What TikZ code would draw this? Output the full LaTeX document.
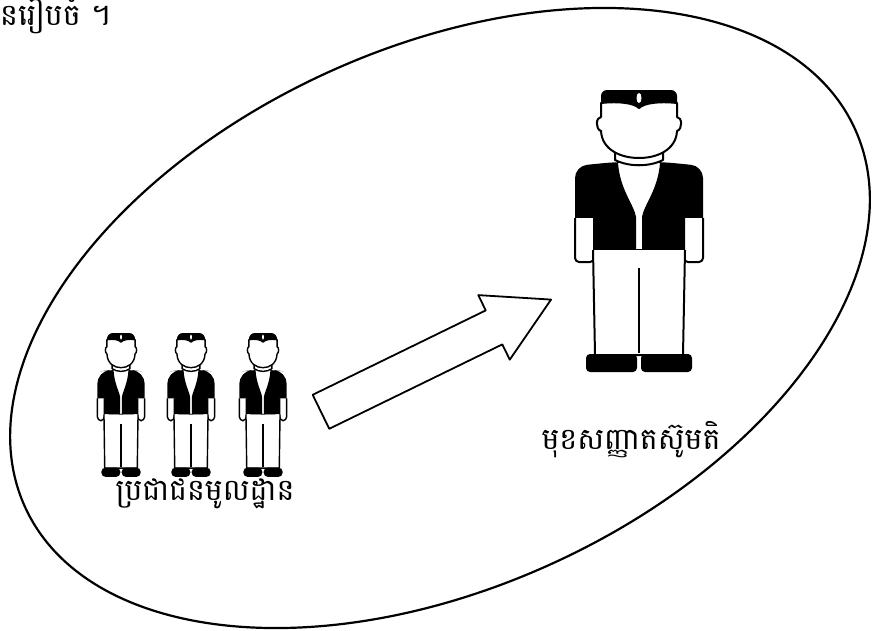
\documentclass[tikz,border=0pt]{standalone}
\usepackage{fontspec}
\newfontfamily\khmerfont[Script=Khmer]{Battambang}
\usetikzlibrary{shapes.geometric,shapes.arrows}

\tikzset{
  person/.pic={
    \fill[black,rounded corners=6] (-38,24) -- (-38,0) -- (38,0) -- (38,24) -- cycle;
    \fill[white] (0,8) ellipse [x radius=2.5, y radius=5];
    \fill[black,rounded corners=12] (-64,160) -- (-64,76) -- (-24,72) -- (24,72) -- (64,76) -- (64,160) -- cycle;
    \draw[fill=white] (-22,73) .. controls (-20,100) and (-6,115) .. (-4,127) -- (-4,160) -- (4,160) -- (4,127) .. controls (6,115) and (20,100) .. (22,73);
    \draw[fill=white,rounded corners=4] (-64,128) -- (-64,172) -- (-45,172) -- (-45,128);
    \draw[fill=white,rounded corners=4] (64,128) -- (64,172) -- (45,172) -- (45,128);
    \draw[fill=white] (-46,160) -- (-44,265) -- (44,265) -- (46,160);
    \draw (0,178) -- (0,263);
    \fill[black,rounded corners=4] (-53,264) rectangle (-2,282);
    \fill[black,rounded corners=4] (2,264) rectangle (53,282);
    \draw[fill=white] (-24,55) -- (-24,70) .. controls (-10,77) and (10,77) .. (24,70) -- (24,55);
    \draw[fill=white] (-38,13) .. controls (-20,11) and (-5,13) .. (0,18) .. controls (5,13) and (20,11) .. (38,13) -- (38,27) .. controls (43,27) and (44,39) .. (38,41) .. controls (37,60) and (18,68) .. (0,68) .. controls (-18,68) and (-37,60) .. (-38,41) .. controls (-44,39) and (-43,27) .. (-38,27) -- cycle;
    \coordinate (-feet) at (0,282);
  }
}

\begin{document}
\begin{tikzpicture}[x=1pt,y=-1pt,line join=round,
  field/.style={draw,ellipse,rotate=24.5,minimum width=912pt,minimum height=540pt,inner sep=0pt,line width=2.2pt},
  bigarrow/.style={draw,fill=white,single arrow,rotate=26,minimum height=256pt,inner sep=18pt,
    single arrow head extend=17pt,single arrow tip angle=59,line width=1.8pt},
  khmer/.style={font=\khmerfont\fontsize{30}{34}\selectfont,inner sep=0pt},
  small/.style={xscale=0.37,yscale=0.51,line width=1.4pt},
  big/.style={line width=2pt}]
\useasboundingbox (0,0) rectangle (875,630);
\node[khmer,anchor=west] (title) at (0,14) {នរៀបចំ ។};
\node[field] (field) at (440,318) {};
\pic[big] (boss) at (639,90) {person};
\pic[small] (p1) at (121,333) {person};
\pic[small] (p2) at (191,333) {person};
\pic[small] (p3) at (263,333) {person};
\node[bigarrow] (push) at (421,363) {};
\node[khmer] (locals) at (205,494) {ប្រជាជនមូលដ្ឋាន};
\node[khmer] (target) at (631,440) {មុខសញ្ញាតស៊ូមតិ};
\end{tikzpicture}
\end{document}
